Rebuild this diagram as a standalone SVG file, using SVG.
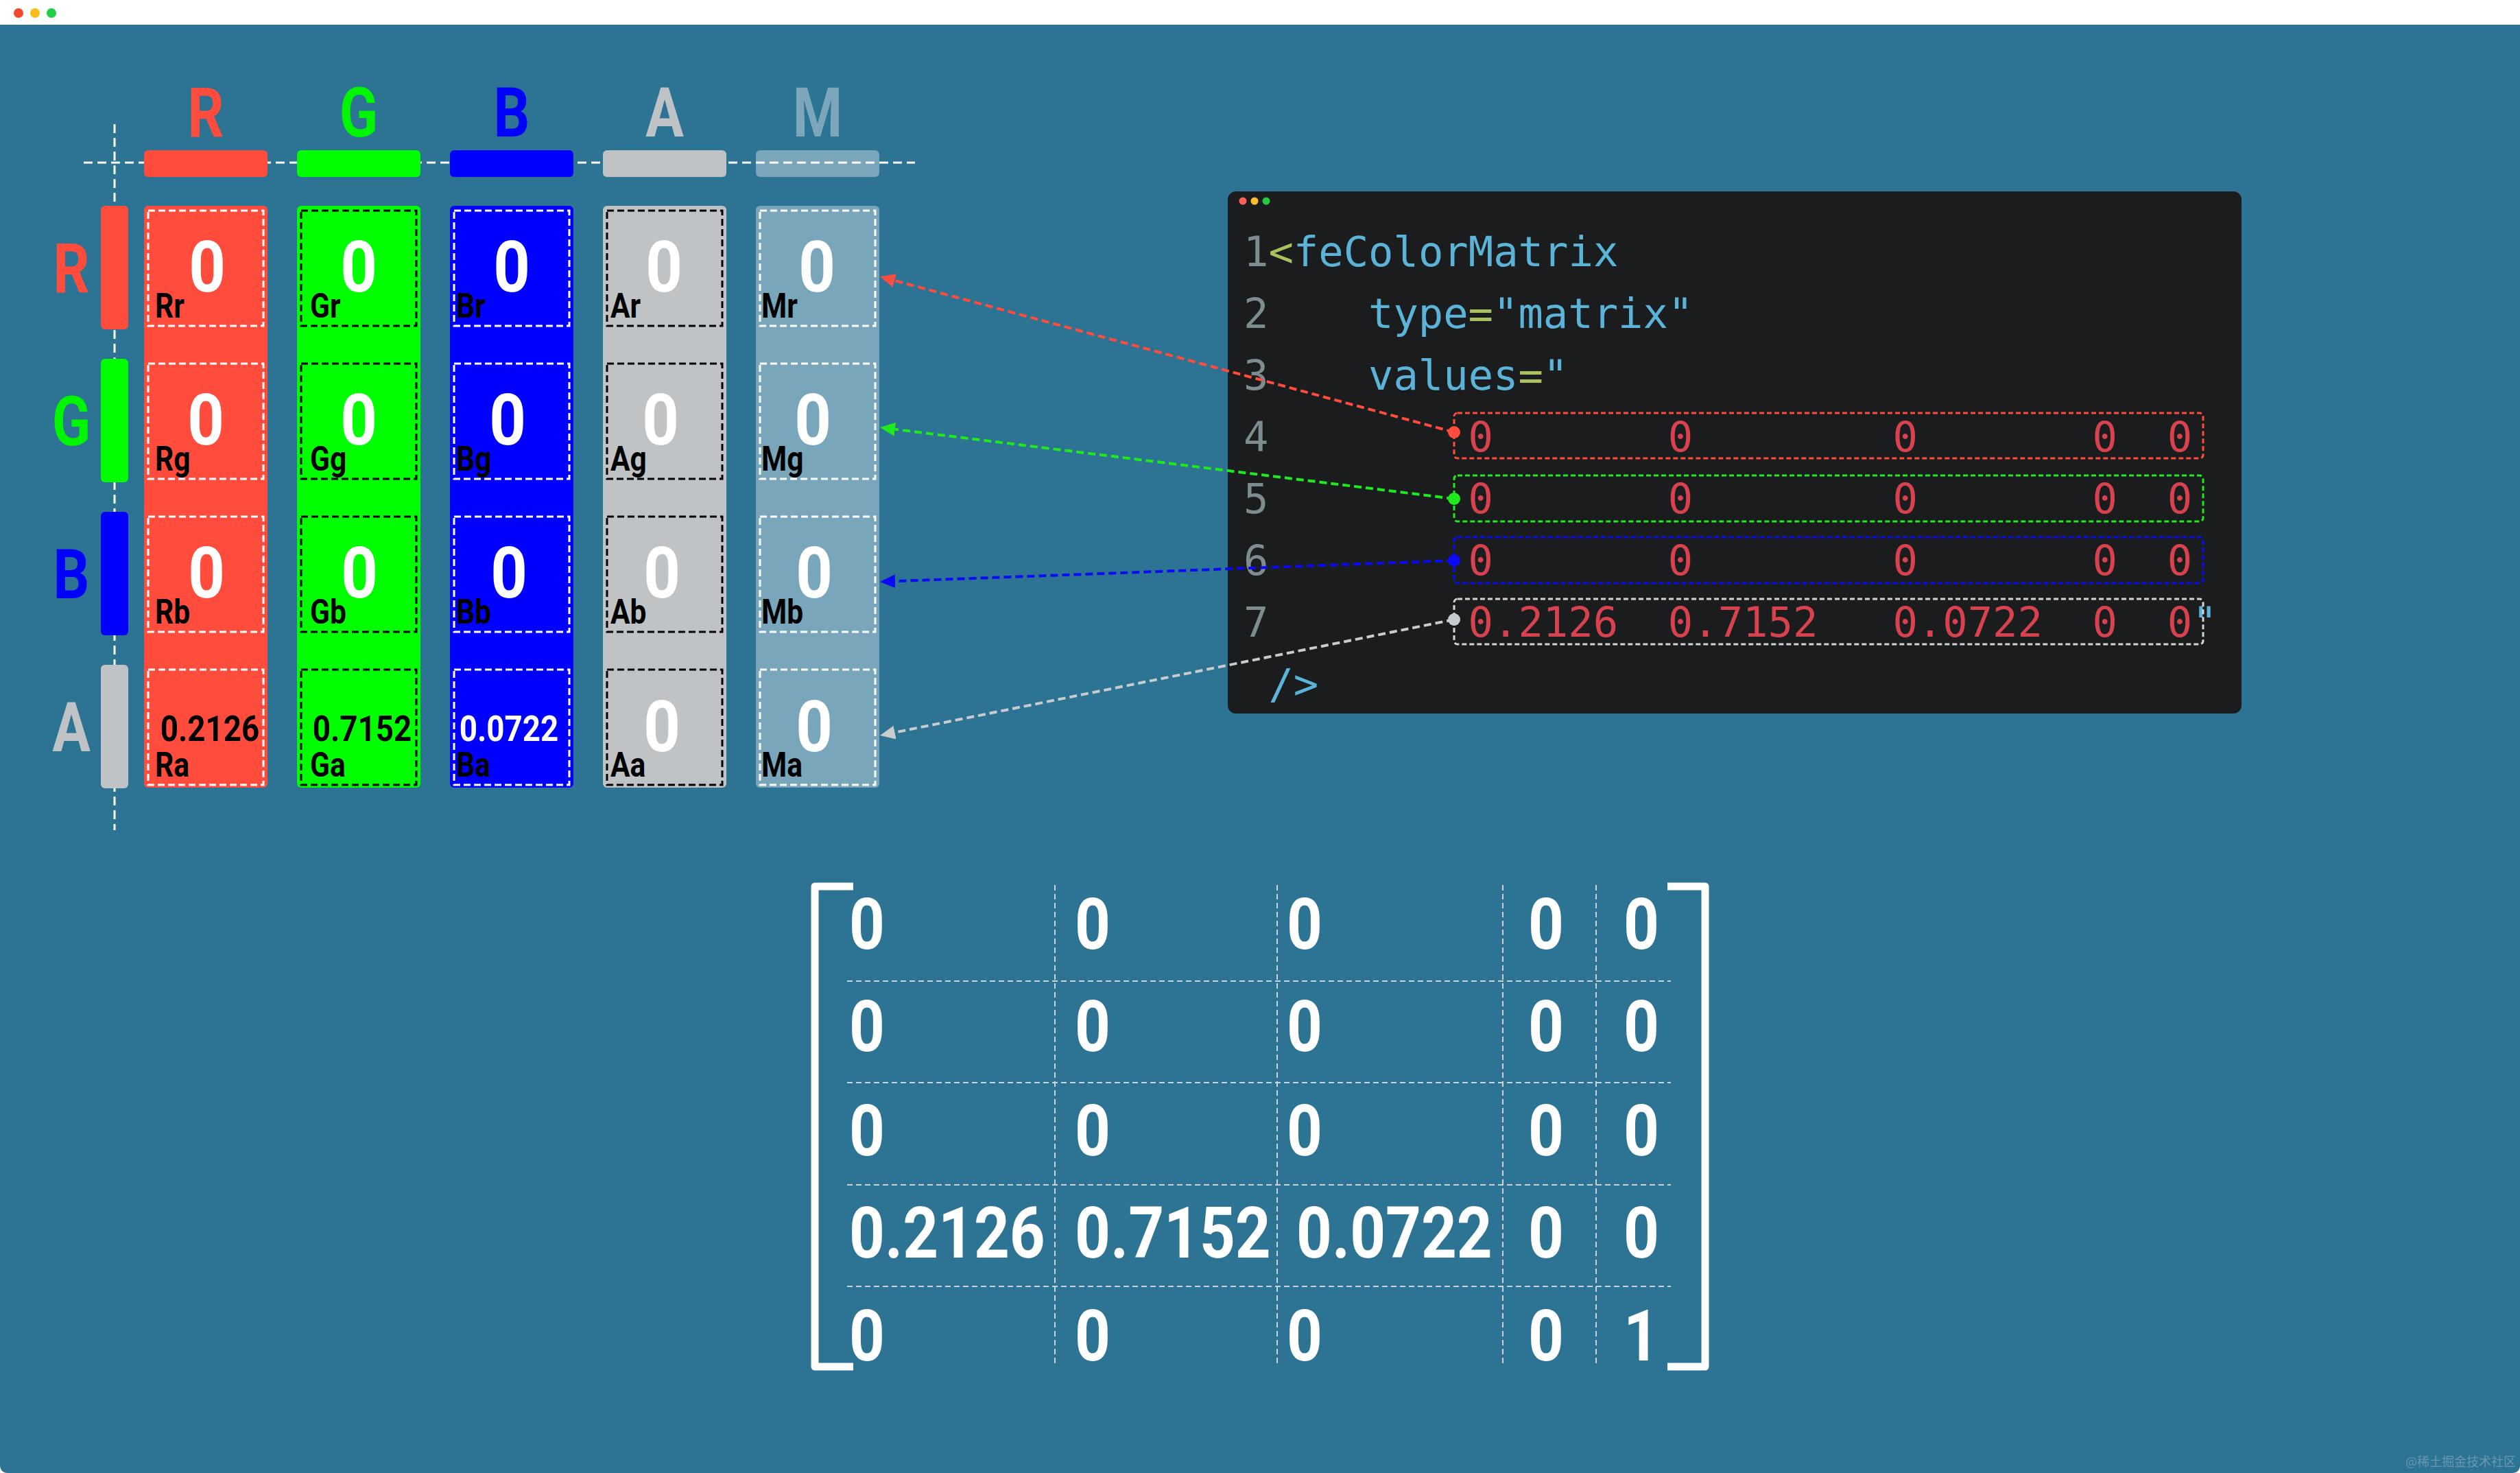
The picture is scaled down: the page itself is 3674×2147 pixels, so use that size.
<svg xmlns="http://www.w3.org/2000/svg" width="3674" height="2147" viewBox="0 0 3674 2147">
<style>
.hdr{font-family:Roboto,"Liberation Sans",sans-serif;font-weight:700;font-size:101px;text-anchor:middle}
.big{font-family:Roboto,"Liberation Sans",sans-serif;font-weight:700;font-size:104px;text-anchor:middle;fill:#fff}
.lbl{font-family:Roboto,"Liberation Sans",sans-serif;font-weight:700;font-size:50px;fill:#000}
.val{font-family:Roboto,"Liberation Sans",sans-serif;font-weight:700;font-size:52px;text-anchor:middle}
.mx{font-family:Roboto,"Liberation Sans",sans-serif;font-weight:700;font-size:104px;fill:#fff}
.axis{stroke:#fff;stroke-width:3;stroke-dasharray:13 7;fill:none}
.cellw{fill:none;stroke:#fff;stroke-width:3;stroke-dasharray:10 5}
.cellb{fill:none;stroke:#000;stroke-width:3;stroke-dasharray:10 5}
.code{font-family:"DejaVu Sans Mono","Liberation Mono",monospace;font-size:60.5px}
.ln{fill:#7C8C8F}
.kw{fill:#5BB4D8}
.op{fill:#A9C25E}
.num{fill:#D8424F}
.rowbox{fill:none;stroke-width:3;stroke-dasharray:7 4}
.conn{fill:none;stroke-width:4;stroke-dasharray:11 6}
.grid{stroke:#C9D3D8;stroke-width:2;stroke-dasharray:8 5;fill:none}
.brk{stroke:#fff;stroke-width:11;fill:none;stroke-linejoin:round}
</style>
<defs>
<marker id="arR" viewBox="0 -10 22 20" markerWidth="22" markerHeight="20" refX="0" refY="0" orient="auto" markerUnits="userSpaceOnUse"><path d="M0,-10 L22,0 L0,10 z" fill="#FF4C3C"/></marker>
<marker id="arG" viewBox="0 -10 22 20" markerWidth="22" markerHeight="20" refX="0" refY="0" orient="auto" markerUnits="userSpaceOnUse"><path d="M0,-10 L22,0 L0,10 z" fill="#1EEA1E"/></marker>
<marker id="arB" viewBox="0 -10 22 20" markerWidth="22" markerHeight="20" refX="0" refY="0" orient="auto" markerUnits="userSpaceOnUse"><path d="M0,-10 L22,0 L0,10 z" fill="#0A0AF5"/></marker>
<marker id="arA" viewBox="0 -10 22 20" markerWidth="22" markerHeight="20" refX="0" refY="0" orient="auto" markerUnits="userSpaceOnUse"><path d="M0,-10 L22,0 L0,10 z" fill="#C8CCCE"/></marker>
</defs>

<g id="background">
<rect x="0" y="0" width="3674" height="2147" fill="#fff"/>
<path d="M0,36 H3674 V2135 Q3674,2147 3662,2147 H12 Q0,2147 0,2135 Z" fill="#2D7393"/>
<circle cx="27" cy="19" r="7" fill="#EF4A2B"/>
<circle cx="51" cy="19" r="7" fill="#F8BC1C"/>
<circle cx="75" cy="19" r="7" fill="#22CF46"/>
</g>

<g id="axes">
<line class="axis" x1="167" y1="181" x2="167" y2="1210"/>
<line class="axis" x1="122" y1="237" x2="1334" y2="237"/>
</g>

<g id="column-headers">
<g id="hdr-R"><text class="hdr" fill="#FF4C3C" transform="translate(300,199) scale(0.82,1)">R</text><rect x="210" y="219" width="180" height="39" rx="6" fill="#FF4C3C"/></g>
<g id="hdr-G"><text class="hdr" fill="#00F500" transform="translate(523,199) scale(0.82,1)">G</text><rect x="433" y="219" width="180" height="39" rx="6" fill="#00FF00"/></g>
<g id="hdr-B"><text class="hdr" fill="#0000FF" transform="translate(746,199) scale(0.82,1)">B</text><rect x="656" y="219" width="180" height="39" rx="6" fill="#0000FF"/></g>
<g id="hdr-A"><text class="hdr" fill="#BFC3C5" transform="translate(969,199) scale(0.82,1)">A</text><rect x="879" y="219" width="180" height="39" rx="6" fill="#BFC3C5"/></g>
<g id="hdr-M"><text class="hdr" fill="#7CA7BB" transform="translate(1192,199) scale(0.82,1)">M</text><rect x="1102" y="219" width="180" height="39" rx="6" fill="#fff" fill-opacity="0.37"/></g>
</g>

<g id="row-headers">
<g id="row-R"><text class="hdr" fill="#FF4C3C" transform="translate(104,426) scale(0.82,1)">R</text><rect x="147" y="300" width="40" height="180" rx="6" fill="#FF4C3C"/></g>
<g id="row-G"><text class="hdr" fill="#00F500" transform="translate(104,649) scale(0.82,1)">G</text><rect x="147" y="523" width="40" height="180" rx="6" fill="#00FF00"/></g>
<g id="row-B"><text class="hdr" fill="#0000FF" transform="translate(104,872) scale(0.82,1)">B</text><rect x="147" y="746" width="40" height="180" rx="6" fill="#0000FF"/></g>
<g id="row-A"><text class="hdr" fill="#BFC3C5" transform="translate(104,1095) scale(0.82,1)">A</text><rect x="147" y="969" width="40" height="180" rx="6" fill="#BFC3C5"/></g>
</g>

<g id="matrix-columns">
<g id="col-R">
<rect x="210" y="300" width="180" height="848" rx="6" fill="#FF4C3C"/>
<rect class="cellw" x="216" y="307" width="168" height="168"/>
<rect class="cellw" x="216" y="530" width="168" height="168"/>
<rect class="cellw" x="216" y="753" width="168" height="168"/>
<rect class="cellw" x="216" y="976" width="168" height="168"/>
<text class="big" transform="translate(302,425) scale(0.9,1)">0</text>
<text class="big" transform="translate(300,648) scale(0.9,1)">0</text>
<text class="big" transform="translate(301,871) scale(0.9,1)">0</text>
<text class="val" fill="#000" transform="translate(306,1080) scale(0.88,1)">0.2126</text>
<text class="lbl" transform="translate(226,463) scale(0.85,1)">Rr</text>
<text class="lbl" transform="translate(226,686) scale(0.85,1)">Rg</text>
<text class="lbl" transform="translate(226,909) scale(0.85,1)">Rb</text>
<text class="lbl" transform="translate(226,1132) scale(0.85,1)">Ra</text>
</g>
<g id="col-G">
<rect x="433" y="300" width="180" height="848" rx="6" fill="#00FF00"/>
<rect class="cellb" x="439" y="307" width="168" height="168"/>
<rect class="cellb" x="439" y="530" width="168" height="168"/>
<rect class="cellb" x="439" y="753" width="168" height="168"/>
<rect class="cellb" x="439" y="976" width="168" height="168"/>
<text class="big" transform="translate(523,425) scale(0.9,1)">0</text>
<text class="big" transform="translate(523,648) scale(0.9,1)">0</text>
<text class="big" transform="translate(524,871) scale(0.9,1)">0</text>
<text class="val" fill="#000" transform="translate(528,1080) scale(0.88,1)">0.7152</text>
<text class="lbl" transform="translate(452,463) scale(0.85,1)">Gr</text>
<text class="lbl" transform="translate(452,686) scale(0.85,1)">Gg</text>
<text class="lbl" transform="translate(452,909) scale(0.85,1)">Gb</text>
<text class="lbl" transform="translate(452,1132) scale(0.85,1)">Ga</text>
</g>
<g id="col-B">
<rect x="656" y="300" width="180" height="848" rx="6" fill="#0000FF"/>
<rect class="cellw" x="662" y="307" width="168" height="168"/>
<rect class="cellw" x="662" y="530" width="168" height="168"/>
<rect class="cellw" x="662" y="753" width="168" height="168"/>
<rect class="cellw" x="662" y="976" width="168" height="168"/>
<text class="big" transform="translate(746,425) scale(0.9,1)">0</text>
<text class="big" transform="translate(740,648) scale(0.9,1)">0</text>
<text class="big" transform="translate(742,871) scale(0.9,1)">0</text>
<text class="val" fill="#fff" transform="translate(742,1080) scale(0.88,1)">0.0722</text>
<text class="lbl" transform="translate(665,463) scale(0.85,1)">Br</text>
<text class="lbl" transform="translate(665,686) scale(0.85,1)">Bg</text>
<text class="lbl" transform="translate(665,909) scale(0.85,1)">Bb</text>
<text class="lbl" transform="translate(665,1132) scale(0.85,1)">Ba</text>
</g>
<g id="col-A">
<rect x="879" y="300" width="180" height="848" rx="6" fill="#BFC3C5"/>
<rect class="cellb" x="885" y="307" width="168" height="168"/>
<rect class="cellb" x="885" y="530" width="168" height="168"/>
<rect class="cellb" x="885" y="753" width="168" height="168"/>
<rect class="cellb" x="885" y="976" width="168" height="168"/>
<text class="big" transform="translate(968,425) scale(0.9,1)">0</text>
<text class="big" transform="translate(963,648) scale(0.9,1)">0</text>
<text class="big" transform="translate(965,871) scale(0.9,1)">0</text>
<text class="big" transform="translate(965,1095) scale(0.9,1)">0</text>
<text class="lbl" transform="translate(890,463) scale(0.85,1)">Ar</text>
<text class="lbl" transform="translate(890,686) scale(0.85,1)">Ag</text>
<text class="lbl" transform="translate(890,909) scale(0.85,1)">Ab</text>
<text class="lbl" transform="translate(890,1132) scale(0.85,1)">Aa</text>
</g>
<g id="col-M">
<rect x="1102" y="300" width="180" height="848" rx="6" fill="#fff" fill-opacity="0.37"/>
<rect class="cellw" x="1108" y="307" width="168" height="168"/>
<rect class="cellw" x="1108" y="530" width="168" height="168"/>
<rect class="cellw" x="1108" y="753" width="168" height="168"/>
<rect class="cellw" x="1108" y="976" width="168" height="168"/>
<text class="big" transform="translate(1191,425) scale(0.9,1)">0</text>
<text class="big" transform="translate(1185,648) scale(0.9,1)">0</text>
<text class="big" transform="translate(1187,871) scale(0.9,1)">0</text>
<text class="big" transform="translate(1187,1095) scale(0.9,1)">0</text>
<text class="lbl" transform="translate(1110,463) scale(0.85,1)">Mr</text>
<text class="lbl" transform="translate(1110,686) scale(0.85,1)">Mg</text>
<text class="lbl" transform="translate(1110,909) scale(0.85,1)">Mb</text>
<text class="lbl" transform="translate(1110,1132) scale(0.85,1)">Ma</text>
</g>
</g>

<g id="code-panel">
<rect x="1790" y="279" width="1478" height="761" rx="12" fill="#1B1C1E"/>
<circle cx="1812" cy="293" r="5.5" fill="#FF5F57"/>
<circle cx="1829" cy="293" r="5.5" fill="#FEBC2E"/>
<circle cx="1846" cy="293" r="5.5" fill="#28C840"/>
<text class="code" y="388"><tspan class="ln" x="1813">1</tspan><tspan class="op" x="1849.4">&lt;</tspan><tspan class="kw" x="1885.8">feColorMatrix</tspan></text>
<text class="code" y="478"><tspan class="ln" x="1813">2</tspan><tspan class="kw" x="1995">type</tspan><tspan class="op" x="2140.6">=</tspan><tspan class="kw" x="2177">"matrix"</tspan></text>
<text class="code" y="568"><tspan class="ln" x="1813">3</tspan><tspan class="kw" x="1995">values</tspan><tspan class="op" x="2213.4">=</tspan><tspan class="kw" x="2249.8">"</tspan></text>
<text class="code" y="658"><tspan class="ln" x="1813">4</tspan><tspan class="num" x="2140.6">0</tspan><tspan class="num" x="2431.8">0</tspan><tspan class="num" x="2759.4">0</tspan><tspan class="num" x="3050.6">0</tspan><tspan class="num" x="3159.8">0</tspan></text>
<text class="code" y="748"><tspan class="ln" x="1813">5</tspan><tspan class="num" x="2140.6">0</tspan><tspan class="num" x="2431.8">0</tspan><tspan class="num" x="2759.4">0</tspan><tspan class="num" x="3050.6">0</tspan><tspan class="num" x="3159.8">0</tspan></text>
<text class="code" y="838"><tspan class="ln" x="1813">6</tspan><tspan class="num" x="2140.6">0</tspan><tspan class="num" x="2431.8">0</tspan><tspan class="num" x="2759.4">0</tspan><tspan class="num" x="3050.6">0</tspan><tspan class="num" x="3159.8">0</tspan></text>
<text class="code" y="928"><tspan class="ln" x="1813">7</tspan><tspan class="num" x="2140.6">0.2126</tspan><tspan class="num" x="2431.8">0.7152</tspan><tspan class="num" x="2759.4">0.0722</tspan><tspan class="num" x="3050.6">0</tspan><tspan class="num" x="3159.8">0</tspan><tspan class="kw" x="3196.2">"</tspan></text>
<text class="code" y="1018"><tspan class="kw" x="1849.4">/&gt;</tspan></text>
<rect class="rowbox" x="2120" y="602" width="1092" height="66" rx="5" stroke="#FF4C3C"/>
<rect class="rowbox" x="2120" y="693" width="1092" height="67" rx="5" stroke="#1EEA1E"/>
<rect class="rowbox" x="2120" y="783" width="1092" height="67" rx="5" stroke="#0A0AF5"/>
<rect class="rowbox" x="2120" y="873" width="1092" height="66" rx="5" stroke="#D2D4D6"/>
</g>

<g id="connectors">
<line class="conn" stroke="#FF4C3C" x1="2120" y1="630" x2="1304.2" y2="408.9" marker-end="url(#arR)"/>
<line class="conn" stroke="#1EEA1E" x1="2120" y1="727" x2="1304.8" y2="625.7" marker-end="url(#arG)"/>
<line class="conn" stroke="#0A0AF5" x1="2120" y1="817" x2="1305" y2="847.2" marker-end="url(#arB)"/>
<line class="conn" stroke="#C8CCCE" x1="2120" y1="903" x2="1304.6" y2="1067.6" marker-end="url(#arA)"/>
<circle cx="2120" cy="630" r="9" fill="#FF4C3C"/>
<circle cx="2120" cy="727" r="9" fill="#1EEA1E"/>
<circle cx="2120" cy="817" r="9" fill="#0A0AF5"/>
<circle cx="2120" cy="903" r="9" fill="#C8CCCE"/>
</g>

<g id="result-matrix">
<line class="grid" x1="1538" y1="1290" x2="1538" y2="1990"/>
<line class="grid" x1="1862" y1="1290" x2="1862" y2="1990"/>
<line class="grid" x1="2191" y1="1290" x2="2191" y2="1990"/>
<line class="grid" x1="2327" y1="1290" x2="2327" y2="1990"/>
<line class="grid" x1="1235" y1="1430" x2="2436" y2="1430"/>
<line class="grid" x1="1235" y1="1578" x2="2436" y2="1578"/>
<line class="grid" x1="1235" y1="1727" x2="2436" y2="1727"/>
<line class="grid" x1="1235" y1="1875" x2="2436" y2="1875"/>
<path class="brk" d="M1244,1292 H1188 V1992 H1244"/>
<path class="brk" d="M2431,1292 H2486 V1992 H2431"/>
<g id="mx-row1">
<text class="mx" transform="translate(1238,1383) scale(0.87,1)">0</text>
<text class="mx" transform="translate(1567,1383) scale(0.87,1)">0</text>
<text class="mx" transform="translate(1876,1383) scale(0.87,1)">0</text>
<text class="mx" transform="translate(2228,1383) scale(0.87,1)">0</text>
<text class="mx" transform="translate(2367,1383) scale(0.87,1)">0</text>
</g>
<g id="mx-row2">
<text class="mx" transform="translate(1238,1532) scale(0.87,1)">0</text>
<text class="mx" transform="translate(1567,1532) scale(0.87,1)">0</text>
<text class="mx" transform="translate(1876,1532) scale(0.87,1)">0</text>
<text class="mx" transform="translate(2228,1532) scale(0.87,1)">0</text>
<text class="mx" transform="translate(2367,1532) scale(0.87,1)">0</text>
</g>
<g id="mx-row3">
<text class="mx" transform="translate(1238,1684) scale(0.87,1)">0</text>
<text class="mx" transform="translate(1567,1684) scale(0.87,1)">0</text>
<text class="mx" transform="translate(1876,1684) scale(0.87,1)">0</text>
<text class="mx" transform="translate(2228,1684) scale(0.87,1)">0</text>
<text class="mx" transform="translate(2367,1684) scale(0.87,1)">0</text>
</g>
<g id="mx-row4">
<text class="mx" transform="translate(1238,1833) scale(0.87,1)">0.2126</text>
<text class="mx" transform="translate(1567,1833) scale(0.87,1)">0.7152</text>
<text class="mx" transform="translate(1890,1833) scale(0.87,1)">0.0722</text>
<text class="mx" transform="translate(2228,1833) scale(0.87,1)">0</text>
<text class="mx" transform="translate(2367,1833) scale(0.87,1)">0</text>
</g>
<g id="mx-row5">
<text class="mx" transform="translate(1238,1983) scale(0.87,1)">0</text>
<text class="mx" transform="translate(1567,1983) scale(0.87,1)">0</text>
<text class="mx" transform="translate(1876,1983) scale(0.87,1)">0</text>
<text class="mx" transform="translate(2228,1983) scale(0.87,1)">0</text>
<text class="mx" transform="translate(2367,1983) scale(0.87,1)">1</text>
</g>
</g>

<text x="3668" y="2137" text-anchor="end" font-family="'Noto Sans CJK SC',sans-serif" font-size="18" fill="#9DBBC9" fill-opacity="0.55">@稀土掘金技术社区</text>
</svg>
